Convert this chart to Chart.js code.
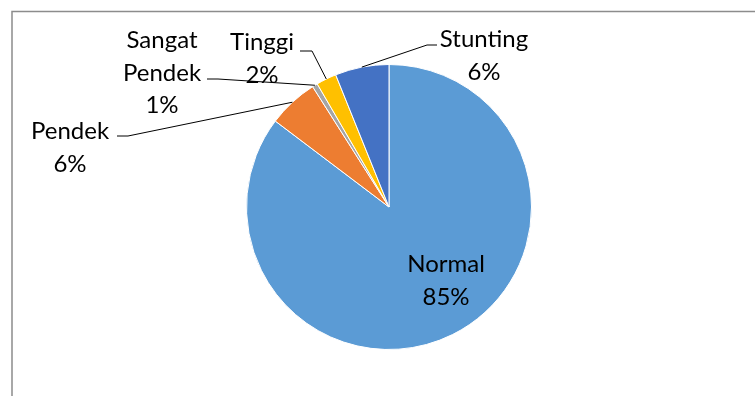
<!DOCTYPE html>
<html>
<head>
<meta charset="utf-8">
<script src="https://cdn.jsdelivr.net/npm/chart.js@4"></script>
<style>
html,body{margin:0;padding:0;background:#fff;}
#wrap{position:relative;width:755px;height:396px;}
</style>
</head>
<body>
<div id="wrap"><canvas id="c" width="755" height="396"></canvas></div>
<script>
const categories = ["Normal", "Pendek", "Sangat Pendek", "Tinggi", "Stunting"];
const values = [85.3, 5.7, 0.6, 2.3, 6.1];
const colors = ["#5B9BD5", "#ED7D31", "#A5A5A5", "#FFC000", "#4472C4"];

// label layout (text centre x, first baseline y, leader start, elbow)
const labelLayout = [
  {x: 446, y: 272, lines: ["Normal"], leader: null},
  {x: 70, y: 139, lines: ["Pendek"], leader: {sx: 117, sy: 136, ex: 128, ey: 136}},
  {x: 162, y: 48, lines: ["Sangat", "Pendek"], leader: {sx: 207, sy: 79, ex: 218, ey: 79}},
  {x: 262, y: 50, lines: ["Tinggi"], leader: {sx: 300, sy: 51, ex: 312, ey: 51}},
  {x: 484, y: 47, lines: ["Stunting"], leader: {sx: 437, sy: 45, ex: 427, ey: 45}}
];

const total = values.reduce((a, b) => a + b, 0);

const framePlugin = {
  id: 'frame',
  beforeDraw(chart) {
    const ctx = chart.ctx;
    ctx.save();
    ctx.strokeStyle = '#8c8c8c';
    ctx.lineWidth = 1.5;
    ctx.beginPath();
    ctx.moveTo(12, 396);
    ctx.lineTo(12, 11.5);
    ctx.lineTo(755, 11.5);
    ctx.stroke();
    ctx.restore();
  }
};

const labelPlugin = {
  id: 'pieLabels',
  afterDatasetsDraw(chart) {
    const ctx = chart.ctx;
    const meta = chart.getDatasetMeta(0);
    ctx.save();
    ctx.font = '24px Lato';
    ctx.fillStyle = '#000';
    ctx.textAlign = 'center';
    ctx.textBaseline = 'alphabetic';
    meta.data.forEach((arc, i) => {
      const L = labelLayout[i];
      const pct = Math.round(values[i] / total * 100) + '%';
      const lines = L.lines.concat([pct]);
      lines.forEach((t, k) => ctx.fillText(t, L.x, L.y + k * 32.5));
      if (L.leader) {
        const p = arc.getProps(['x', 'y', 'startAngle', 'endAngle', 'outerRadius'], true);
        const mid = (p.startAngle + p.endAngle) / 2;
        const px = p.x + Math.cos(mid) * p.outerRadius;
        const py = p.y + Math.sin(mid) * p.outerRadius;
        ctx.strokeStyle = '#000';
        ctx.lineWidth = 1;
        ctx.beginPath();
        ctx.moveTo(L.leader.sx, L.leader.sy);
        ctx.lineTo(L.leader.ex, L.leader.ey);
        ctx.lineTo(px, py);
        ctx.stroke();
      }
    });
    ctx.restore();
  }
};

new Chart(document.getElementById('c'), {
  type: 'pie',
  data: {
    labels: categories,
    datasets: [{
      data: values,
      backgroundColor: colors,
      borderColor: '#ffffff',
      borderWidth: 1
    }]
  },
  options: {
    responsive: false,
    animation: false,
    layout: {padding: {top: 64, bottom: 46, left: 246, right: 223}},
    plugins: {legend: {display: false}, tooltip: {enabled: false}}
  },
  plugins: [framePlugin, labelPlugin]
});
</script>
</body>
</html>
